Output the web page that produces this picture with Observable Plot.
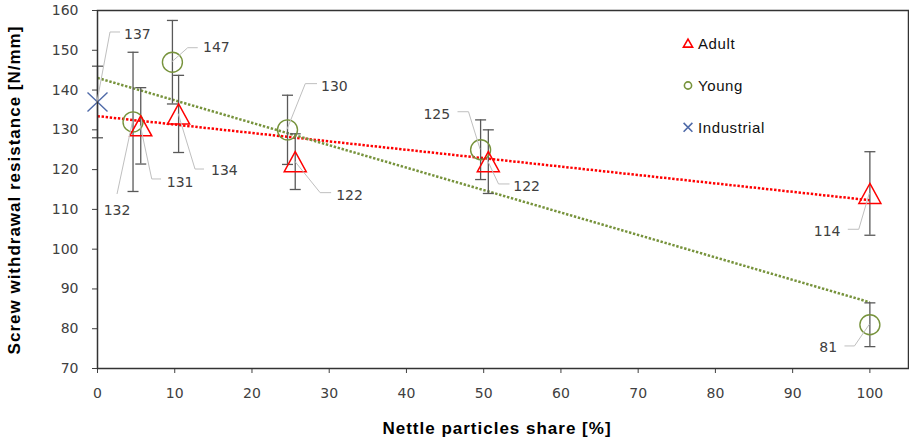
<!DOCTYPE html>
<html><head><meta charset="utf-8">
<script src="https://cdn.jsdelivr.net/npm/d3@7"></script>
<script src="https://cdn.jsdelivr.net/npm/@observablehq/plot@0.6"></script>
<style>
body{margin:0;background:#fff}
#chart{position:relative;width:909px;height:438px}
</style>
</head><body><div id="chart"></div>
<script>
// ---- data ----
const xTicks = [0, 10, 20, 30, 40, 50, 60, 70, 80, 90, 100];
const yTicks = [70, 80, 90, 100, 110, 120, 130, 140, 150, 160];
const seriesNames = ["Adult", "Young", "Industrial"];

const industrialShare = [0];
const industrialValue = [137];
const industrialError = [9];

const youngShare = [4.6, 9.7, 24.6, 49.6, 100];
const youngValue = [132, 147, 130, 125, 81];
const youngError = [17.5, 10.5, 8.7, 7.5, 5.5];

const adultShare = [5.6, 10.5, 25.6, 50.6, 100];
const adultValue = [131, 134, 122, 122, 114];
const adultError = [9.6, 9.7, 7, 8, 10.5];

const xTitle = "Nettle particles share [%]";
const yTitle = "Screw withdrawal resistance [N/mm]";

// ---- styles / layout (pixel offsets for callouts) ----
const colors = {Adult: "#FF0000", Young: "#77933C", Industrial: "#4F6AA8"};
const calloutLayout = {
  Industrial: [{elbow: [13, -69.5], end: 23, text: [27, -67.5], anchor: "start"}],
  Young: [
    {elbow: [-15.5, 72.6], end: -15.5, text: [-15.5, 88.6], anchor: "middle"},
    {elbow: [15.8, -14], end: 25.8, text: [31.1, -15], anchor: "start"},
    {elbow: [18.3, -45.7], end: 30, text: [34, -43.3], anchor: "start"},
    {elbow: [-11.6, -37.5], end: -22.6, text: [-29.9, -34.9], anchor: "end"},
    {elbow: [-14.9, 21.7], end: -24.9, text: [-32.2, 23], anchor: "end"}
  ],
  Adult: [
    {elbow: [11.5, 53.6], end: 20.8, text: [26.5, 56.3], anchor: "start"},
    {elbow: [16.9, 55.6], end: 25.9, text: [32.9, 56.6], anchor: "start"},
    {elbow: [25.4, 31.5], end: 36.4, text: [41.4, 33.8], anchor: "start"},
    {elbow: [10.7, 22.8], end: 21.7, text: [25.4, 24.8], anchor: "start"},
    {elbow: [-10.6, 36.3], end: -21.6, text: [-28.9, 37.7], anchor: "end"}
  ]
};

const rows = (series, share, value, error) =>
  share.map((x, i) => ({series, x, y: value[i], lo: value[i] - error[i], hi: value[i] + error[i]}));
const adult = rows("Adult", adultShare, adultValue, adultError);
const young = rows("Young", youngShare, youngValue, youngError);
const industrial = rows("Industrial", industrialShare, industrialValue, industrialError);
const all = [...adult, ...young, ...industrial];

const capSym = {draw(ctx) { ctx.moveTo(-5.5, 0); ctx.lineTo(5.5, 0); }};
const triSym = {draw(ctx) { ctx.moveTo(0, -10); ctx.lineTo(11, 10); ctx.lineTo(-11, 10); ctx.closePath(); }};
const timesSym = {draw(ctx) { ctx.moveTo(-10, -9.5); ctx.lineTo(10, 9.5); ctx.moveTo(-10, 9.5); ctx.lineTo(10, -9.5); }};

const dash = "2.4,1.7";

const chart = Plot.plot({
  width: 909,
  height: 438,
  marginLeft: 97,
  marginRight: 1,
  marginTop: 10,
  marginBottom: 70,
  style: {fontFamily: "DejaVu Sans", fontSize: "14px", color: "#404040", background: "#fff", overflow: "visible"},
  x: {domain: [0, 105], ticks: xTicks, tickSize: 5, tickPadding: 15, label: null, tickFormat: d => String(d)},
  y: {domain: [70, 160], ticks: yTicks, tickSize: 5, tickPadding: 14, label: null, tickFormat: d => String(d)},
  marks: [
    Plot.linearRegressionY([...industrial, ...adult], {x: "x", y: "y", stroke: colors.Adult, ci: 0, strokeWidth: 2.5, strokeDasharray: dash}),
    Plot.linearRegressionY([...industrial, ...young], {x: "x", y: "y", stroke: colors.Young, ci: 0, strokeWidth: 2.5, strokeDasharray: dash}),
    Plot.ruleX(all, {x: "x", y1: "lo", y2: "hi", stroke: "#595959", strokeWidth: 1.3}),
    Plot.dot(all, {x: "x", y: "lo", symbol: capSym, fill: "none", stroke: "#595959", strokeWidth: 1.3}),
    Plot.dot(all, {x: "x", y: "hi", symbol: capSym, fill: "none", stroke: "#595959", strokeWidth: 1.3}),
    Plot.dot(young, {x: "x", y: "y", symbol: "circle", r: 10, fill: "none", stroke: colors.Young, strokeWidth: 1.4}),
    Plot.dot(adult, {x: "x", y: "y", symbol: triSym, fill: "none", stroke: colors.Adult, strokeWidth: 1.5}),
    Plot.dot(industrial, {x: "x", y: "y", symbol: timesSym, fill: "none", stroke: colors.Industrial, strokeWidth: 1.4}),
    Plot.frame({stroke: "#333", strokeWidth: 1.5})
  ]
});
document.getElementById("chart").appendChild(chart);

const svg = d3.select(chart);
// make sure the trend lines are dotted
svg.selectAll('g[aria-label="linear-regression"] path, g[aria-label="linear-regression"]')
  .attr("stroke-dasharray", dash).attr("stroke-linecap", "butt");

// ---- annotations via the plot's own scales ----
const sx = chart.scale("x"), sy = chart.scale("y");
const fx = sx.apply ? v => sx.apply(v) : d3.scaleLinear(sx.domain, sx.range);
const fy = sy.apply ? v => sy.apply(v) : d3.scaleLinear(sy.domain, sy.range);
const ann = svg.append("g");
const bySeries = {Adult: adult, Young: young, Industrial: industrial};
for (const name of ["Industrial", "Young", "Adult"]) {
  bySeries[name].forEach((d, i) => {
    const L = calloutLayout[name][i];
    const px = fx(d.x), py = fy(d.y);
    const ex = px + L.elbow[0], ey = py + L.elbow[1];
    ann.append("path")
      .attr("d", `M${px},${py}L${ex},${ey}L${px + L.end},${ey}`)
      .attr("fill", "none").attr("stroke", "#BFBFBF").attr("stroke-width", 1);
    ann.append("text")
      .attr("x", px + L.text[0]).attr("y", py + L.text[1]).attr("dy", "0.36em")
      .attr("text-anchor", L.anchor)
      .attr("fill", "#404040").style("font", "14px 'DejaVu Sans'")
      .text(String(d.y));
  });
}

// legend
const leg = svg.append("g").attr("transform", "translate(688,0)");
const legY = [43.3, 85.5, 127.3];
seriesNames.forEach((name, i) => {
  const g = leg.append("g").attr("transform", `translate(0,${legY[i]})`);
  if (name === "Adult") g.append("path").attr("d", "M0,-4.2L4.6,3.8L-4.6,3.8Z");
  else if (name === "Young") g.append("circle").attr("r", 3.6);
  else g.append("path").attr("d", "M-4.4,-4.4L4.4,4.4M-4.4,4.4L4.4,-4.4");
  g.selectAll("path,circle").attr("fill", "none").attr("stroke", colors[name]).attr("stroke-width", 1.6);
  g.append("text").attr("x", 10).attr("dy", "0.36em").attr("text-anchor", "start")
    .attr("fill", "#111").style("font", "15px 'Liberation Sans'").style("letter-spacing", "0.6px")
    .text(name);
});

// axis titles
svg.append("text").attr("x", 497).attr("y", 434).attr("text-anchor", "middle")
  .attr("fill", "#000").style("font", "bold 17px 'Liberation Sans'").style("letter-spacing", "1px")
  .text(xTitle);
svg.append("text").attr("transform", "translate(19.5,190) rotate(-90)").attr("text-anchor", "middle")
  .attr("fill", "#000").style("font", "bold 17px 'Liberation Sans'").style("letter-spacing", "1px")
  .text(yTitle);
</script>
</body></html>
